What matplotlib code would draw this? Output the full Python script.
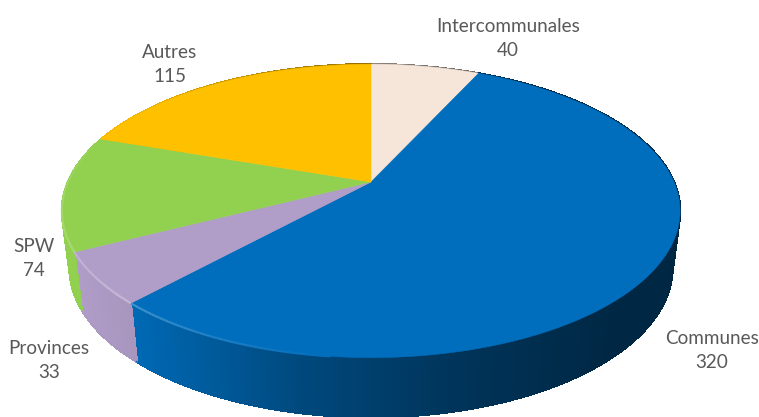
import numpy as np
import matplotlib
matplotlib.use('Agg')
import matplotlib.pyplot as plt
from matplotlib.collections import PolyCollection

# values, clockwise from 12 o'clock
labels = ['Intercommunales', 'Communes', 'Provinces', 'SPW', 'Autres']
values = [40, 320, 33, 74, 115]
colors = ['#F6E6DA', '#006EBD', '#B09DC8', '#92D050', '#FFC000']
label_xy = [(508, 38), (712, 350), (49, 361), (34, 259), (170, 64)]

# perspective of the disc, fitted on the picture (pixels)
CX, CY = 371, 182
K, A, B = 0.197, 141, 303


def top_rim(t):
    w = 1 + K * np.cos(t)
    return CX + B * np.sin(t) / w, CY - A * np.cos(t) / w


def low_rim(t):
    w = 1 + K * np.cos(t)
    x, y = top_rim(t)
    return CX + (x - CX) * 0.975, y + 44 + 12.5 / w


def shade(col, x):
    f = np.interp(x, [70, 135, 300, 450, 600, 680], [1.0, 0.95, 0.66, 0.48, 0.37, 0.35])
    return tuple(np.array(matplotlib.colors.to_rgb(col)) * f)


def lighten(col, a):
    c = np.array(matplotlib.colors.to_rgb(col))
    return tuple(c + (1 - c) * a)


fig = plt.figure(figsize=(7.59, 4.17), dpi=100)
ax = fig.add_axes([0, 0, 1, 1])
ax.set_xlim(0, 759)
ax.set_ylim(417, 0)
ax.axis('off')

edges = np.cumsum([0] + values) / sum(values) * 2 * np.pi

# side wall
quads = []
quad_cols = []
for i, col in enumerate(colors):
    ts = np.linspace(edges[i], edges[i + 1], max(int(values[i]) * 2, 8) + 1)
    for t0, t1 in zip(ts[:-1], ts[1:]):
        x0, y0 = top_rim(t0)
        x1, y1 = top_rim(t1)
        x2, y2 = low_rim(t1)
        x3, y3 = low_rim(t0)
        quads.append([(x0, y0), (x1, y1), (x2, y2), (x3, y3)])
        quad_cols.append(shade(col, (x0 + x1) / 2))
ax.add_collection(PolyCollection(quads, facecolors=quad_cols, edgecolors=quad_cols,
                                 linewidths=1.0, antialiaseds=False))
# smooth outer edge of the wall
low_t = np.linspace(np.radians(95), np.radians(265), 300)
for t0, t1 in zip(low_t[:-1], low_t[1:]):
    lx, ly = low_rim(np.array([t0, t1]))
    seg = np.searchsorted(edges, (t0 + t1) / 2) - 1
    ax.plot(lx, ly, color=shade(colors[seg], lx.mean()), lw=1.0, zorder=2, solid_capstyle='butt')

# top face
for i, col in enumerate(colors):
    ts = np.linspace(edges[i], edges[i + 1], 200)
    x, y = top_rim(ts)
    ax.fill(np.r_[CX, x], np.r_[CY, y], color=col, lw=0.4, zorder=3)

# light bevel on the front left of the rim
for i, col in enumerate(colors):
    ts = np.linspace(edges[i], edges[i + 1], max(int(values[i]), 8) + 1)
    for t0, t1 in zip(ts[:-1], ts[1:]):
        tm = (t0 + t1) / 2
        a = np.interp(tm, np.radians([186, 205, 225, 270, 290]), [0, 0.12, 0.28, 0.12, 0])
        if a <= 0:
            continue
        x, y = top_rim(np.array([t0, t1]))
        ax.plot(x, y, color=lighten(col, a), lw=1.6, zorder=4, solid_capstyle='butt')

# labels
for name, val, (lx, ly) in zip(labels, values, label_xy):
    ax.text(lx, ly, '%s\n%d' % (name, val), ha='center', va='center', fontsize=13.6,
            family='Lato', color='#595959', linespacing=1.5, zorder=5)

fig.savefig('out.png', dpi=100)
